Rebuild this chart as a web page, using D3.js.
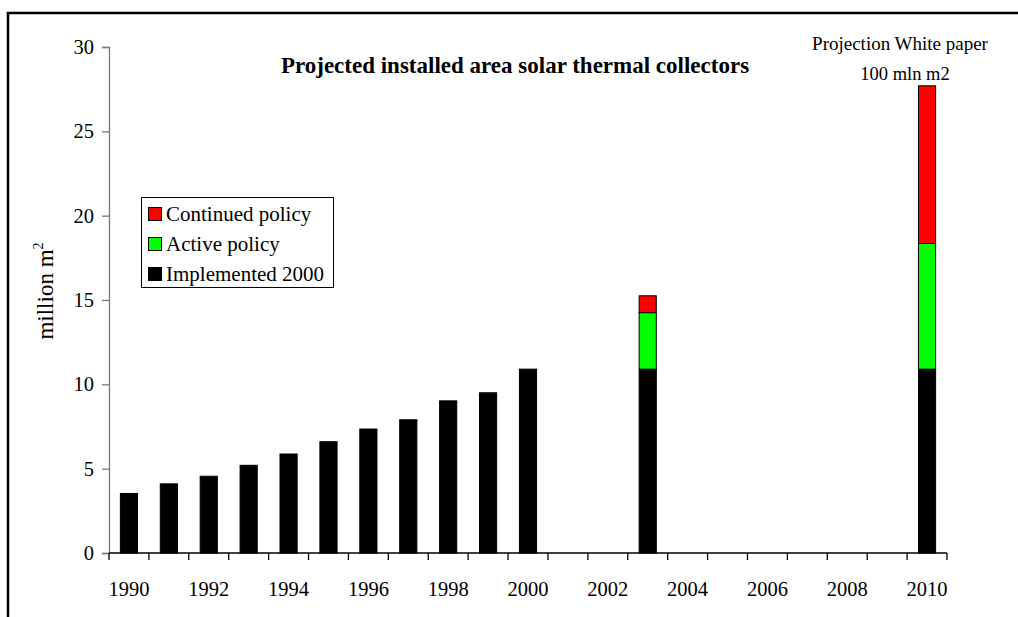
<!DOCTYPE html>
<html>
<head>
<meta charset="utf-8">
<script src="https://cdn.jsdelivr.net/npm/d3@7"></script>
<style>
  body { margin: 0; background: #fff; }
  svg, svg text { font-family: "Liberation Serif", "Times New Roman", serif !important; }
  text { fill: #000; }
</style>
</head>
<body>
<svg id="chart" width="1018" height="617"></svg>
<script>
// Installed collector area per year, million m2
const years = [1990, 1991, 1992, 1993, 1994, 1995, 1996, 1997, 1998, 1999, 2000,
               2001, 2002, 2003, 2004, 2005, 2006, 2007, 2008, 2009, 2010];
const implemented2000 = [3.53, 4.1, 4.55, 5.2, 5.87, 6.6, 7.35, 7.9, 9.02, 9.5, 10.9,
                         0, 0, 10.9, 0, 0, 0, 0, 0, 0, 10.9];
const activePolicy = [0, 0, 0, 0, 0, 0, 0, 0, 0, 0, 0,
                      0, 0, 3.35, 0, 0, 0, 0, 0, 0, 7.45];
const continuedPolicy = [0, 0, 0, 0, 0, 0, 0, 0, 0, 0, 0,
                         0, 0, 1.0, 0, 0, 0, 0, 0, 0, 9.35];
const seriesNames = ["Implemented 2000", "Active policy", "Continued policy"];
const seriesColors = ["#000000", "#00ff00", "#ff0000"];
const xTickLabels = ["1990", "1992", "1994", "1996", "1998", "2000",
                     "2002", "2004", "2006", "2008", "2010"];
const yTicks = [0, 5, 10, 15, 20, 25, 30];

const serif = "'Liberation Serif', 'Times New Roman', serif";
const svg = d3.select("#chart").attr("font-family", serif);
const plotLeft = 109, plotRight = 947, plotTop = 47, plotBottom = 553;

// outer frame
svg.append("rect")
  .attr("x", 8).attr("y", 13).attr("width", 1200).attr("height", 800)
  .attr("fill", "none").attr("stroke", "#000").attr("stroke-width", 2.5);

const pad = 0.57;
const x = d3.scaleBand().domain(years).range([plotLeft, plotRight])
  .paddingInner(pad).paddingOuter(pad / 2);
const y = d3.scaleLinear().domain([0, 30]).range([plotBottom, plotTop]);

const rows = years.map((yr, i) => ({
  year: yr,
  "Implemented 2000": implemented2000[i],
  "Active policy": activePolicy[i],
  "Continued policy": continuedPolicy[i]
}));
const stacked = d3.stack().keys(seriesNames)(rows);

// bars
svg.append("g").selectAll("g")
  .data(stacked)
  .join("g")
  .attr("fill", (d, i) => seriesColors[i])
  .selectAll("rect")
  .data(d => d.filter(s => s[1] - s[0] > 0))
  .join("rect")
  .attr("x", d => x(d.data.year))
  .attr("width", x.bandwidth())
  .attr("y", d => y(d[1]))
  .attr("height", d => y(d[0]) - y(d[1]))
  .attr("stroke", "#000")
  .attr("stroke-width", 1);

// y axis
const yAxis = svg.append("g")
  .attr("transform", `translate(${plotLeft},0)`)
  .call(d3.axisLeft(y).tickValues(yTicks).tickSize(7).tickPadding(8).tickFormat(d3.format("d")))
  .attr("font-family", serif)
  .attr("font-size", 20.5);
yAxis.select(".domain").attr("stroke", "#777").attr("stroke-width", 1.3);
yAxis.selectAll(".tick line").attr("stroke", "#777").attr("stroke-width", 1.3);
yAxis.selectAll(".tick text").attr("fill", "#000");

// x axis: ticks on category boundaries, labels centred on every other year
const step = x.step();
const boundaries = d3.range(years.length + 1).map(i => plotLeft + i * step);
const xAxis = svg.append("g").attr("font-size", 20.5);
xAxis.append("line")
  .attr("x1", plotLeft).attr("x2", plotRight)
  .attr("y1", plotBottom).attr("y2", plotBottom)
  .attr("stroke", "#000").attr("stroke-width", 1.3);
xAxis.selectAll("line.tk")
  .data(boundaries)
  .join("line")
  .attr("class", "tk")
  .attr("x1", d => d).attr("x2", d => d)
  .attr("y1", plotBottom).attr("y2", plotBottom + 7)
  .attr("stroke", "#000").attr("stroke-width", 1.3);
xAxis.selectAll("text")
  .data(xTickLabels)
  .join("text")
  .attr("x", d => x(+d) + x.bandwidth() / 2)
  .attr("y", 596)
  .attr("text-anchor", "middle")
  .text(d => d);

// y axis title
const yTitle = svg.append("text")
  .attr("transform", "translate(53,291) rotate(-90)")
  .attr("text-anchor", "middle")
  .attr("font-size", 23);
yTitle.append("tspan").text("million m");
yTitle.append("tspan").attr("font-size", 14).attr("dy", -10).text("2");

// chart title
svg.append("text")
  .attr("x", 515).attr("y", 73)
  .attr("text-anchor", "middle")
  .attr("font-size", 23)
  .attr("font-weight", "bold")
  .text("Projected installed area solar thermal collectors");

// annotation above the 2010 bar
svg.append("text")
  .attr("x", 900).attr("y", 50)
  .attr("text-anchor", "middle")
  .attr("font-size", 19)
  .text("Projection White paper");
svg.append("text")
  .attr("x", 905).attr("y", 80)
  .attr("text-anchor", "middle")
  .attr("font-size", 18.5)
  .text("100 mln m2");

// legend
const legend = svg.append("g").attr("font-size", 21);
legend.append("rect")
  .attr("x", 141.5).attr("y", 197.5).attr("width", 192).attr("height", 90)
  .attr("fill", "#fff").attr("stroke", "#000").attr("stroke-width", 1);
const legendOrder = [2, 1, 0];
legendOrder.forEach((si, row) => {
  const cy = 214 + row * 30;
  legend.append("rect")
    .attr("x", 148.5).attr("y", cy - 6.5).attr("width", 13).attr("height", 13)
    .attr("fill", seriesColors[si]).attr("stroke", "#000").attr("stroke-width", 1);
  legend.append("text")
    .attr("x", 166).attr("y", cy + 7)
    .text(seriesNames[si]);
});
</script>
</body>
</html>
